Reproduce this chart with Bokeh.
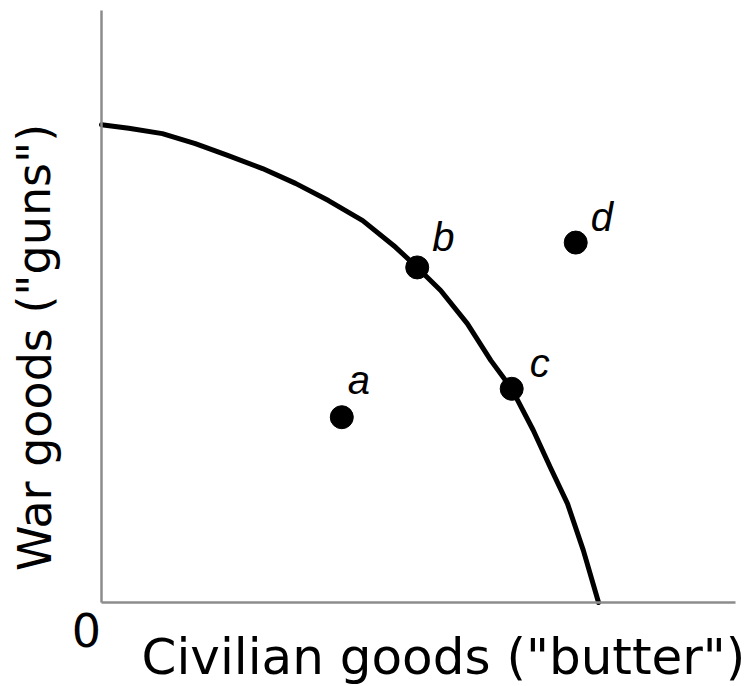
from bokeh.plotting import figure
from bokeh.models import ColumnDataSource, Range1d, Label, FixedTicker
from bokeh.embed import file_html
from bokeh.resources import INLINE
from bokeh.core.properties import value

# Production possibilities frontier (0-100 scale)
ppf_civilian = [0, 4.3, 9.6, 14.8, 20.0, 25.4, 30.6, 35.8, 41.2, 46.4, 49.8,
                53.5, 57.7, 61.4, 64.7, 68.1, 70.8, 73.5, 76.0, 78.4]
ppf_war = [80.7, 80.1, 79.2, 77.5, 75.5, 73.3, 70.8, 67.9, 64.5, 60.0, 56.6,
           52.7, 47.1, 40.9, 36.1, 29.1, 22.8, 16.7, 8.8, 0]

point_names = ["a", "b", "c", "d"]
point_civilian = [37.9, 49.8, 64.7, 74.8]
point_war = [31.3, 56.6, 36.1, 60.8]

x_label = 'Civilian goods ("butter")'
y_label = 'War goods ("guns")'

# ---- layout (pixels) ----
W, H = 746, 686
ox, oy = 101, 602          # origin in canvas pixels (from top-left)
x_px, y_px = 634, 592      # pixel length of the 0..100 axes
sx, sy = x_px / 100.0, y_px / 100.0
label_nudge_x = [6, 15, 18, 15]      # point-label nudges, screen px
label_nudge_y = [-37, -30, -26, -26]

p = figure(width=W, height=H, output_backend="svg", toolbar_location=None,
           x_range=Range1d(-ox / sx, (W - ox) / sx),
           y_range=Range1d(-(H - oy) / sy, oy / sy),
           min_border=0)
p.outline_line_color = None
p.grid.visible = False
p.background_fill_color = "white"
p.border_fill_color = "white"

for ax in (p.xaxis[0], p.yaxis[0]):
    ax.fixed_location = 0
    ax.bounds = (0, 100)
    ax.ticker = FixedTicker(ticks=[])
    ax.major_tick_line_color = None
    ax.minor_tick_line_color = None
    ax.major_tick_out = 0
    ax.major_tick_in = 0
    ax.major_label_standoff = 0
    ax.major_label_text_font_size = "0px"
    ax.axis_line_color = "#8c8c8c"
    ax.axis_line_width = 2.5
    ax.axis_label = None

p.line(ppf_civilian, ppf_war, line_color="black", line_width=5,
       line_cap="round", line_join="round")

src = ColumnDataSource(dict(x=point_civilian, y=point_war, name=point_names,
                            dx=label_nudge_x, dy=label_nudge_y))
p.scatter("x", "y", source=src, size=23, fill_color="black", line_color="black")
p.text("x", "y", text="name", source=src, x_offset="dx", y_offset="dy",
       text_font=value("Liberation Sans"), text_font_style="italic",
       text_font_size="40px", text_align="left", text_baseline="alphabetic",
       text_color="black")

zero = Label(x=0, y=0, text="0", x_offset=-15, y_offset=-27,
             text_font="DejaVu Sans", text_font_size="46px",
             text_align="center", text_baseline="middle", text_color="black")
p.add_layout(zero)

xl = Label(x=0, y=0, text=x_label, x_offset=40, y_offset=-54,
           text_font="DejaVu Sans", text_font_size="50px",
           text_align="left", text_baseline="middle", text_color="black")
p.add_layout(xl)

yl = Label(x=0, y=0, text=y_label, x_offset=-67, y_offset=255, angle=1.5708,
           text_font="DejaVu Sans", text_font_size="46px",
           text_align="center", text_baseline="middle", text_color="black")
p.add_layout(yl)

open("out.html", "w").write(file_html(p, INLINE))
